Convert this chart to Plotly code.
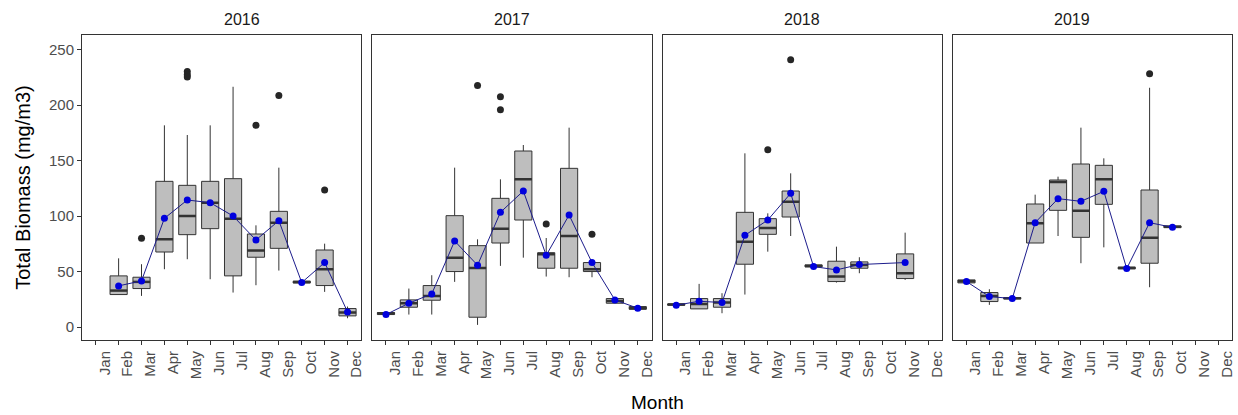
import plotly.graph_objects as go

MONTHS = ['Jan', 'Feb', 'Mar', 'Apr', 'May', 'Jun', 'Jul', 'Aug', 'Sep', 'Oct', 'Nov', 'Dec']
YEARS = ['2016', '2017', '2018', '2019']

# box stats per year: month index (1-12), q1, median, q3, lower whisker, upper whisker, mean
m_2016 = [2, 3, 4, 5, 6, 7, 8, 9, 10, 11, 12]
q1_2016 = [29.4, 34.8, 67.7, 83.3, 88.7, 46.2, 63.0, 71.0, 39.8, 37.5, 10.2]
med_2016 = [33.0, 40.8, 79.1, 100.1, 112.0, 97.7, 69.0, 94.1, 40.6, 52.2, 13.2]
q3_2016 = [46.2, 45.0, 131.3, 127.7, 131.3, 133.7, 83.9, 104.3, 41.4, 69.5, 16.8]
lo_2016 = [29.4, 28.2, 52.2, 61.2, 43.2, 31.2, 37.8, 51.0, 39.8, 31.8, 8.1]
hi_2016 = [62.0, 56.7, 181.7, 173.0, 181.7, 216.4, 91.7, 143.6, 41.4, 75.2, 18.6]
mean_2016 = [37.2, 41.7, 98.0, 114.5, 112.1, 100.1, 78.5, 95.9, 40.2, 58.2, 13.8]

m_2017 = [1, 2, 3, 4, 5, 6, 7, 8, 9, 10, 11, 12]
q1_2017 = [11.4, 18.0, 24.3, 50.1, 9.0, 75.8, 96.5, 53.1, 53.1, 50.1, 21.6, 16.2]
med_2017 = [12.6, 21.6, 28.2, 62.6, 53.4, 88.7, 133.1, 65.6, 82.1, 52.2, 23.7, 17.1]
q3_2017 = [13.2, 24.6, 37.5, 100.4, 73.4, 116.0, 158.6, 67.1, 143.0, 58.2, 25.8, 18.6]
lo_2017 = [11.4, 11.4, 11.4, 40.8, 2.1, 55.2, 62.6, 45.6, 45.0, 45.0, 21.6, 16.2]
hi_2017 = [13.2, 34.8, 46.8, 143.6, 79.1, 133.1, 164.0, 80.3, 179.6, 58.2, 25.8, 18.6]
mean_2017 = [11.4, 21.6, 30.0, 77.6, 55.8, 103.4, 122.6, 64.7, 101.0, 58.2, 24.6, 17.1]

m_2018 = [1, 2, 3, 4, 5, 6, 7, 8, 9, 11]
q1_2018 = [19.8, 16.5, 18.0, 56.7, 83.6, 99.2, 54.3, 41.1, 53.1, 43.8]
med_2018 = [20.4, 21.0, 22.2, 77.0, 89.3, 113.0, 55.2, 45.6, 56.1, 48.6]
q3_2018 = [21.0, 25.8, 25.8, 103.4, 97.7, 122.6, 56.1, 59.4, 58.8, 66.0]
lo_2018 = [19.8, 16.5, 12.6, 29.4, 68.0, 82.1, 54.3, 40.2, 48.6, 42.6]
hi_2018 = [21.0, 39.0, 30.6, 156.5, 102.5, 138.5, 56.1, 72.5, 63.0, 85.1]
mean_2018 = [19.8, 23.4, 22.2, 82.7, 96.5, 120.5, 54.6, 51.6, 56.4, 58.2]

m_2019 = [1, 2, 3, 4, 5, 6, 7, 8, 9, 10]
q1_2019 = [39.9, 23.1, 25.5, 75.8, 105.2, 80.9, 110.6, 52.5, 57.6, 89.6]
med_2019 = [41.4, 28.2, 26.1, 93.5, 130.7, 104.9, 133.1, 53.4, 80.6, 90.5]
q3_2019 = [42.6, 31.2, 26.7, 110.9, 132.5, 146.9, 145.7, 54.0, 123.5, 91.1]
lo_2019 = [39.9, 20.1, 25.5, 75.8, 82.1, 57.6, 71.9, 52.5, 36.0, 89.6]
hi_2019 = [42.6, 34.2, 26.7, 119.3, 135.5, 179.6, 152.0, 54.0, 215.5, 91.1]
mean_2019 = [41.1, 27.6, 25.8, 94.1, 115.7, 113.3, 122.3, 52.8, 94.1, 89.9]

# outliers
out_x_2016 = [3, 5, 5, 5, 8, 9, 11]
out_y_2016 = [80.0, 230.2, 227.2, 225.1, 181.7, 208.6, 123.5]
out_x_2017 = [5, 6, 6, 8, 10]
out_y_2017 = [217.6, 207.4, 195.7, 92.9, 83.6]
out_x_2018 = [5, 6]
out_y_2018 = [159.8, 240.7]
out_x_2019 = [9]
out_y_2019 = [228.1]

data = [
    (m_2016, q1_2016, med_2016, q3_2016, lo_2016, hi_2016, mean_2016, out_x_2016, out_y_2016),
    (m_2017, q1_2017, med_2017, q3_2017, lo_2017, hi_2017, mean_2017, out_x_2017, out_y_2017),
    (m_2018, q1_2018, med_2018, q3_2018, lo_2018, hi_2018, mean_2018, out_x_2018, out_y_2018),
    (m_2019, q1_2019, med_2019, q3_2019, lo_2019, hi_2019, mean_2019, out_x_2019, out_y_2019),
]

BOX_W = 0.75
GRAY_TXT = '#4d4d4d'
FONT = 'Liberation Sans, Arial, sans-serif'

fig = go.Figure()

# panel domains (4 facets, small gaps)
gap = 11 / 1150
pw = (1 - 3 * gap) / 4
domains = [[i * (pw + gap), i * (pw + gap) + pw] for i in range(4)]

for i, (m, q1, med, q3, lo, hi, mn, ox, oy) in enumerate(data):
    xa = 'x' if i == 0 else f'x{i+1}'
    ya = 'y' if i == 0 else f'y{i+1}'
    fig.add_trace(go.Box(
        x=m, q1=q1, median=med, q3=q3, lowerfence=lo, upperfence=hi,
        width=BOX_W, whiskerwidth=0, boxpoints=False,
        fillcolor='#bebebe', line=dict(color='#333333', width=1),
        xaxis=xa, yaxis=ya, showlegend=False, hoverinfo='skip'))
    # thicker median bar like ggplot
    mx, my = [], []
    for xv, yv in zip(m, med):
        mx += [xv - BOX_W / 2, xv + BOX_W / 2, None]
        my += [yv, yv, None]
    fig.add_trace(go.Scatter(x=mx, y=my, mode='lines', line=dict(color='#333333', width=2.5),
                             xaxis=xa, yaxis=ya, showlegend=False, hoverinfo='skip'))
    fig.add_trace(go.Scatter(x=ox, y=oy, mode='markers', marker=dict(color='#262626', size=7),
                             xaxis=xa, yaxis=ya, showlegend=False))
    fig.add_trace(go.Scatter(x=m, y=mn, mode='lines+markers',
                             line=dict(color='#1c1c8c', width=1),
                             marker=dict(color='#0000dd', size=7),
                             xaxis=xa, yaxis=ya, showlegend=False))

    axis_common = dict(showline=True, mirror=True, linecolor='#333333', linewidth=1,
                       showgrid=False, zeroline=False, ticklen=4, automargin=False,
                       tickcolor='#333333', tickfont=dict(size=15, color=GRAY_TXT, family=FONT))
    fig.layout[f'xaxis{i+1 if i else ""}'] = dict(
        domain=domains[i], anchor=ya, range=[0.4, 12.6], ticks='outside',
        tickmode='array', tickvals=list(range(1, 13)), ticktext=MONTHS,
        tickangle=-90, ticklabelshift=9, **axis_common)
    fig.layout[f'yaxis{i+1 if i else ""}'] = dict(
        domain=[0, 1], anchor=xa, range=[-11.5, 263], ticks='outside' if i == 0 else '',
        tickvals=[0, 50, 100, 150, 200, 250], showticklabels=(i == 0),
        matches=None if i == 0 else 'y', **axis_common)
    fig.add_annotation(text=YEARS[i], x=(domains[i][0] + domains[i][1]) / 2, y=1.0,
                       xref='paper', yref='paper', yanchor='bottom', yshift=5, showarrow=False,
                       font=dict(size=16, color='#1a1a1a', family=FONT))

fig.layout.yaxis.title = dict(text='Total Biomass (mg/m3)', font=dict(size=20, color='#000000', family=FONT),
                              standoff=12)
fig.add_annotation(text='Month', x=0.5, y=0, xref='paper', yref='paper', yanchor='middle', yshift=-62,
                   showarrow=False, font=dict(size=19, color='#000000', family=FONT))

fig.update_layout(
    width=1238, height=415,
    margin=dict(l=82, r=6, t=35, b=75),
    plot_bgcolor='white', paper_bgcolor='white',
    font=dict(family=FONT),
)

# page body has a default margin; remove it so the figure fills the window
fig.write_html("out.html", config={'displayModeBar': False},
               post_script="document.body.style.margin='0';")
